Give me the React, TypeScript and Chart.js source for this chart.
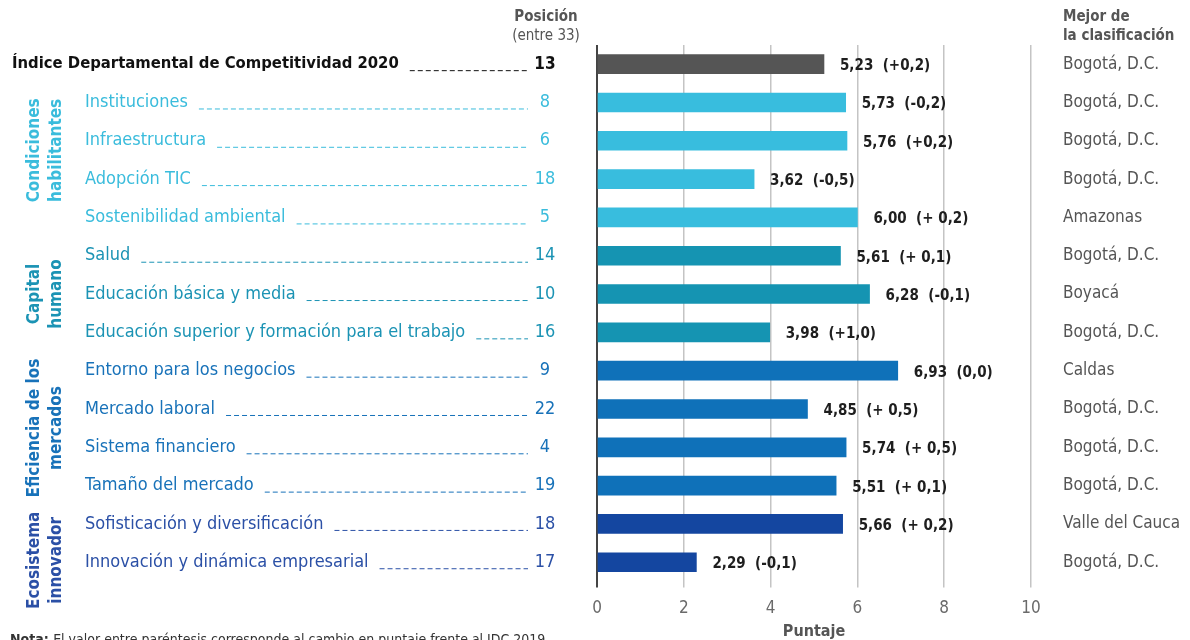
import React, { useEffect, useRef } from "react";
import { Chart, registerables } from "chart.js";
Chart.register(...registerables);

const categories = [
  "Índice Departamental de Competitividad 2020",
  "Instituciones",
  "Infraestructura",
  "Adopción TIC",
  "Sostenibilidad ambiental",
  "Salud",
  "Educación básica y media",
  "Educación superior y formación para el trabajo",
  "Entorno para los negocios",
  "Mercado laboral",
  "Sistema financiero",
  "Tamaño del mercado",
  "Sofisticación y diversificación",
  "Innovación y dinámica empresarial",
];
const scores = [5.23, 5.73, 5.76, 3.62, 6.0, 5.61, 6.28, 3.98, 6.93, 4.85, 5.74, 5.51, 5.66, 2.29];
const changes = ["+0,2", "-0,2", "+0,2", "-0,5", "+ 0,2", "+ 0,1", "-0,1", "+1,0", "0,0", "+ 0,5", "+ 0,5", "+ 0,1", "+ 0,2", "-0,1"];
const positions = [13, 8, 6, 18, 5, 14, 10, 16, 9, 22, 4, 19, 18, 17];
const bestDept = [
  "Bogotá, D.C.", "Bogotá, D.C.", "Bogotá, D.C.", "Bogotá, D.C.", "Amazonas",
  "Bogotá, D.C.", "Boyacá", "Bogotá, D.C.", "Caldas", "Bogotá, D.C.",
  "Bogotá, D.C.", "Bogotá, D.C.", "Valle del Cauca", "Bogotá, D.C.",
];
const rowGroup = [0, 1, 1, 1, 1, 2, 2, 2, 3, 3, 3, 3, 4, 4];
const barColors = ["#555555", "#38BDDE", "#1594B2", "#0F71B9", "#1446A0"];
const textColors = ["#111111", "#3ABCDC", "#1B93B4", "#1872B9", "#2B50A6"];
const groupTitles = [
  { lines: ["Condiciones", "habilitantes"], at: 2.25 },
  { lines: ["Capital", "humano"], at: 6.0 },
  { lines: ["Eficiencia de los", "mercados"], at: 9.5 },
  { lines: ["Ecosistema", "innovador"], at: 12.95 },
];
const xTicks = [0, 2, 4, 6, 8, 10];

const FONT = '"Liberation Sans Narrow", "DejaVu Sans Condensed", "Liberation Sans", sans-serif';

const textPlugin = {
  id: "sideText",
  afterDraw(chart: any) {
    const ctx = chart.ctx as CanvasRenderingContext2D;
    const xs = chart.scales.x;
    const ys = chart.scales.y;
    const rowY = (i: number) => ys.getPixelForValue(i);
    const rowYf = (f: number) => {
      const i0 = Math.floor(f);
      const i1 = Math.min(i0 + 1, categories.length - 1);
      const t = f - i0;
      return rowY(i0) * (1 - t) + rowY(i1) * t;
    };
    ctx.save();
    // headers
    ctx.textBaseline = "middle";
    ctx.textAlign = "center";
    ctx.fillStyle = "#555555";
    ctx.font = `bold 15px ${FONT}`;
    ctx.fillText("Posición", 546, 17);
    ctx.font = `15px ${FONT}`;
    ctx.fillText("(entre 33)", 546, 36);
    ctx.textAlign = "left";
    ctx.font = `bold 15px ${FONT}`;
    ctx.fillText("Mejor de", 1063, 17);
    ctx.fillText("la clasificación", 1063, 36);

    categories.forEach((cat, i) => {
      const y = rowY(i);
      const g = rowGroup[i];
      const isIndex = i === 0;
      const x0 = isIndex ? 12 : 85;
      ctx.textAlign = "left";
      ctx.textBaseline = "middle";
      ctx.fillStyle = textColors[g];
      ctx.font = isIndex ? `bold 16.5px ${FONT}` : `18px ${FONT}`;
      ctx.fillText(cat, x0, y);
      const w = ctx.measureText(cat).width;
      // leader
      ctx.strokeStyle = textColors[g];
      ctx.lineWidth = 1;
      ctx.setLineDash([5, 3]);
      ctx.beginPath();
      ctx.moveTo(x0 + w + 11, y + 6.5);
      ctx.lineTo(528, y + 6.5);
      ctx.stroke();
      ctx.setLineDash([]);
      // position
      ctx.textAlign = "center";
      ctx.font = isIndex ? `bold 17px ${FONT}` : `18px ${FONT}`;
      ctx.fillText(String(positions[i]), 545, y);
      // value label
      const xe = xs.getPixelForValue(scores[i]);
      ctx.textAlign = "left";
      ctx.fillStyle = "#1e1e1e";
      ctx.font = `bold 15px ${FONT}`;
      const v = scores[i].toFixed(2).replace(".", ",");
      ctx.fillText(`${v}  (${changes[i]})`, xe + 16, y + 2);
      // best
      ctx.fillStyle = "#555555";
      ctx.font = `17px ${FONT}`;
      ctx.fillText(bestDept[i], 1063, y);
    });

    // group titles (rotated)
    groupTitles.forEach((gt, k) => {
      const yc = rowYf(gt.at);
      ctx.fillStyle = textColors[k + 1];
      ctx.font = `bold 17px ${FONT}`;
      ctx.textAlign = "center";
      ctx.textBaseline = "middle";
      gt.lines.forEach((ln, j) => {
        ctx.save();
        ctx.translate(35 + j * 22, yc);
        ctx.rotate(-Math.PI / 2);
        ctx.fillText(ln, 0, 0);
        ctx.restore();
      });
    });

    // note (cut at bottom)
    ctx.textAlign = "left";
    ctx.textBaseline = "alphabetic";
    ctx.fillStyle = "#333333";
    ctx.font = `bold 14px ${FONT}`;
    ctx.fillText("Nota:", 10, 644);
    const nw = ctx.measureText("Nota: ").width;
    ctx.font = `14px ${FONT}`;
    ctx.fillText("El valor entre paréntesis corresponde al cambio en puntaje frente al IDC 2019.", 10 + nw, 644);
    ctx.restore();
  },
};

export default function App() {
  const ref = useRef<HTMLCanvasElement | null>(null);
  useEffect(() => {
    document.body.style.margin = "0";
    const canvas = ref.current!;
    const chart = new Chart(canvas, {
      type: "bar",
      data: {
        labels: categories,
        datasets: [
          {
            data: scores,
            backgroundColor: rowGroup.map((g) => barColors[g]),
            borderWidth: 0,
            barThickness: 19,
          },
        ],
      },
      options: {
        indexAxis: "y",
        animation: false,
        responsive: false,
        maintainAspectRatio: false,
        layout: { padding: { left: 597, right: 159, top: 45, bottom: -9 } },
        plugins: { legend: { display: false }, tooltip: { enabled: false } },
        scales: {
          x: {
            min: 0,
            max: 10,
            afterBuildTicks: (axis: any) => {
              axis.ticks = xTicks.map((v) => ({ value: v }));
            },
            grid: {
              color: (c: any) => (c.tick && c.tick.value === 0 ? "#444444" : "#c4c4c4"),
              lineWidth: (c: any) => (c.tick && c.tick.value === 0 ? 2 : 1.5),
              drawTicks: true,
              tickLength: 6,
            },
            border: { display: false },
            ticks: {
              color: "#6a6a6a",
              font: { family: FONT, size: 17 },
              padding: 11,
            },
            title: {
              display: true,
              text: "Puntaje",
              color: "#555555",
              font: { family: FONT, size: 16, weight: "bold" },
              padding: { top: -8, bottom: 8 },
            },
          },
          y: {
            display: false,
          },
        },
      },
      plugins: [textPlugin],
    });
    return () => chart.destroy();
  }, []);
  return <canvas ref={ref} width={1190} height={640} style={{ display: "block" }} />;
}
